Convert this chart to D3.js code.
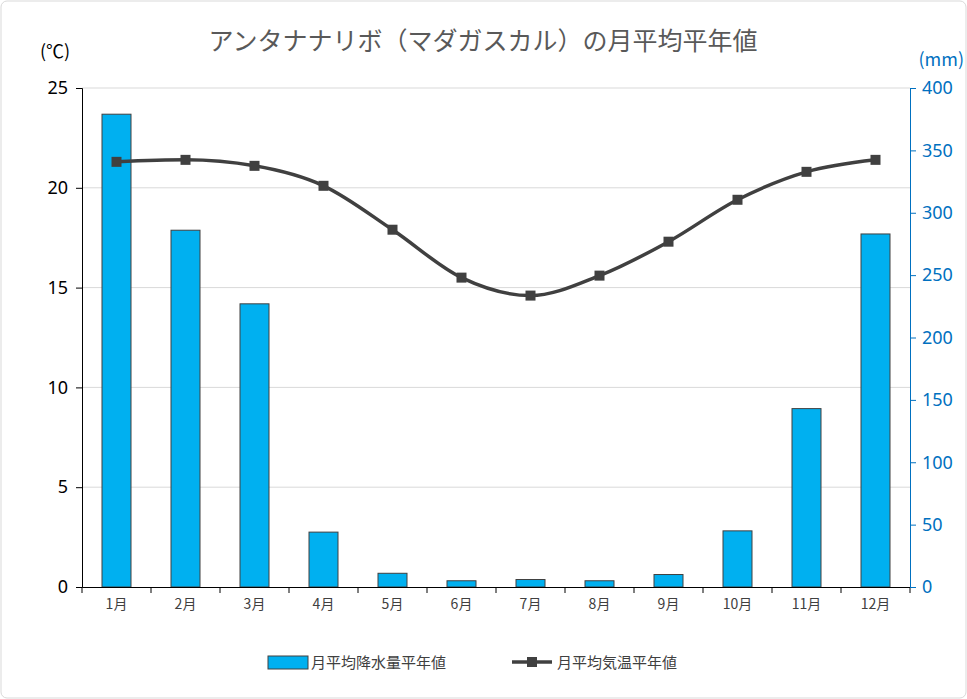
<!DOCTYPE html>
<html><head><meta charset="utf-8">
<script src="https://cdn.jsdelivr.net/npm/d3@7"></script>
<style>body{margin:0;background:#fff;font-family:"Noto Sans CJK JP","Noto Sans",sans-serif}</style>
</head><body><svg id="c" width="967" height="699"></svg>
<script>
const months=["1月","2月","3月","4月","5月","6月","7月","8月","9月","10月","11月","12月"];
const precip=[379,286,227,44,11,5,6,5,10,45,143,283];
const temp=[21.3,21.4,21.1,20.1,17.9,15.5,14.6,15.6,17.3,19.4,20.8,21.4];
const leftTicks=[0,5,10,15,20,25];
const rightTicks=[0,50,100,150,200,250,300,350,400];

const svg=d3.select("#c");
svg.append("rect").attr("x",1).attr("y",1).attr("width",965).attr("height",697).attr("rx",6)
  .attr("fill","#fff").attr("stroke","#d9d9d9");
const L=82,R=910,T=88,B=587;
const x=d3.scaleBand().domain(months).range([L,R]);
const yL=d3.scaleLinear().domain([0,25]).range([B,T]);
const yR=d3.scaleLinear().domain([0,400]).range([B,T]);

svg.append("g").selectAll("line").data(leftTicks.slice(1)).join("line")
  .attr("x1",L).attr("x2",R).attr("y1",d=>yL(d)).attr("y2",d=>yL(d)).attr("stroke","#d9d9d9");

const bw=29;
svg.append("g").selectAll("rect").data(precip).join("rect")
  .attr("x",(d,i)=>x(months[i])+x.bandwidth()/2-bw/2).attr("width",bw)
  .attr("y",d=>yR(d)).attr("height",d=>B-yR(d))
  .attr("fill","#00b0f0").attr("stroke","#404040").attr("stroke-width",1);

const gx=svg.append("g").attr("transform",`translate(0,${B})`)
  .call(d3.axisBottom(x).tickSize(0).tickPadding(12));
gx.select(".domain").attr("stroke","#000");
gx.selectAll("text").attr("font-size",14).attr("fill","#404040").attr("font-family","Noto Sans CJK JP");
svg.append("g").selectAll("line").data(d3.range(13)).join("line")
  .attr("x1",i=>L+i*x.step()).attr("x2",i=>L+i*x.step()).attr("y1",B).attr("y2",B+6).attr("stroke","#000");

const gl=svg.append("g").attr("transform",`translate(${L},0)`)
  .call(d3.axisLeft(yL).tickValues(leftTicks).tickSize(6).tickPadding(8));
gl.selectAll("path,line").attr("stroke","#000");
gl.selectAll("text").attr("font-size",18).attr("fill","#000").attr("font-family","Noto Sans");
const gr=svg.append("g").attr("transform",`translate(${R},0)`)
  .call(d3.axisRight(yR).tickValues(rightTicks).tickSize(6).tickPadding(6));
gr.selectAll("path,line").attr("stroke","#0070c0");
gr.selectAll("text").attr("font-size",18).attr("fill","#0070c0").attr("font-family","Noto Sans");

const line=d3.line().x((d,i)=>x(months[i])+x.bandwidth()/2).y(d=>yL(d)).curve(d3.curveMonotoneX);
svg.append("path").datum(temp).attr("d",line).attr("fill","none").attr("stroke","#404040").attr("stroke-width",3.5);
svg.append("g").selectAll("rect").data(temp).join("rect")
  .attr("x",(d,i)=>x(months[i])+x.bandwidth()/2-5).attr("y",d=>yL(d)-5)
  .attr("width",10).attr("height",10).attr("fill","#404040");

svg.append("text").attr("x",483).attr("y",50).attr("text-anchor","middle").attr("font-size",25)
  .attr("fill","#595959").text("アンタナナリボ（マダガスカル）の月平均平年値");
svg.append("text").attr("x",40).attr("y",58).attr("font-size",18).attr("fill","#000").text("(℃)");
svg.append("text").attr("x",964).attr("y",66).attr("text-anchor","end").attr("font-size",18).attr("fill","#0070c0").text("(mm)");

const lg=svg.append("g");
lg.append("rect").attr("x",268).attr("y",656).attr("width",40).attr("height",13).attr("fill","#00b0f0").attr("stroke","#404040");
lg.append("text").attr("x",311).attr("y",668).attr("font-size",15).attr("fill","#404040").text("月平均降水量平年値");
lg.append("line").attr("x1",512).attr("x2",552).attr("y1",662).attr("y2",662).attr("stroke","#404040").attr("stroke-width",3.5);
lg.append("rect").attr("x",527).attr("y",657).attr("width",10).attr("height",10).attr("fill","#404040");
lg.append("text").attr("x",557).attr("y",668).attr("font-size",15).attr("fill","#404040").text("月平均気温平年値");
</script></body></html>
